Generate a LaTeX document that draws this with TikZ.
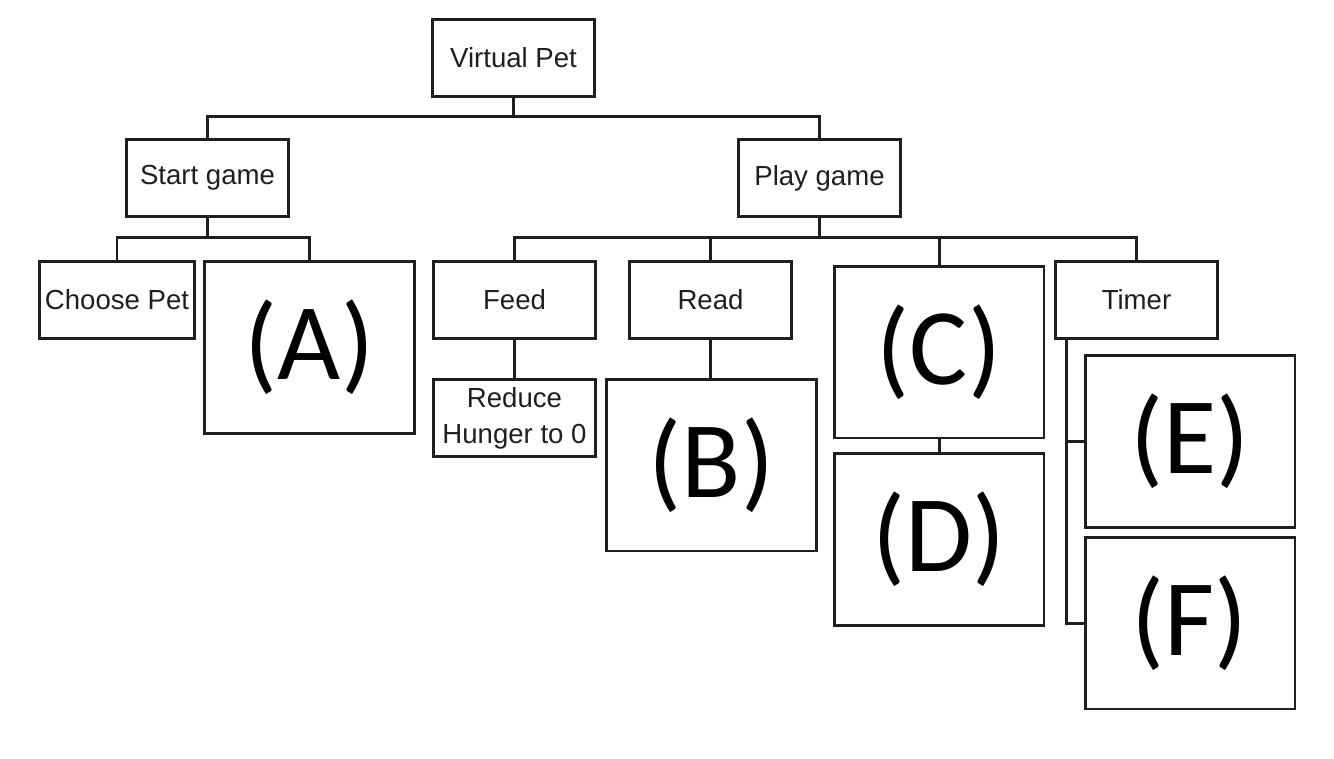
\documentclass[tikz,border=0pt]{standalone}
\usepackage{fontspec}
\setmainfont{Liberation Sans}
\newfontfamily\letterfont{Carlito}
\usepackage{tikz}

\begin{document}
\begin{tikzpicture}[x=0.02cm, y=-0.02cm,
    box/.style={draw=black!88, line width=1.7pt, inner sep=0pt, align=center,
      minimum width=3.24cm, minimum height=1.54cm, text=black!88,
      font=\fontsize{15.7}{20.4}\selectfont},
    bigbox/.style={draw=black!88, line width=1.7pt, inner sep=0pt,
      minimum width=4.2cm, minimum height=3.44cm, text=black,
      font=\letterfont\fontsize{62}{70}\selectfont},
    link/.style={draw=black!88, line width=1.7pt}]

  \useasboundingbox (0,0) rectangle (1334,758);

  \node[box] (vp) at (513.5,58) {Virtual Pet};
  \node[box] (sg) at (207.5,178) {Start game};
  \node[box] (pg) at (819.5,178) {Play game};

  \node[box, minimum width=3.1cm] (cp) at (117,300) {Choose Pet};
  \node[bigbox] (a) at (309.5,347.5) {(A)};

  \node[box] (fd) at (514.5,300) {Feed};
  \node[box] (rd) at (710.5,300) {Read};
  \node[bigbox] (c) at (939,352) {(C)};
  \node[box] (tm) at (1136.5,300) {Timer};

  \node[box] (rh) at (514.5,418) {Reduce\\Hunger to 0};
  \node[bigbox] (b) at (711.5,465) {(B)};
  \node[bigbox] (d) at (939,539.5) {(D)};
  \node[bigbox] (e) at (1190,441.5) {(E)};
  \node[bigbox] (f) at (1190,623) {(F)};

  \draw[link] (vp.south) -- ++(0,19) -| (sg.north);
  \draw[link] (vp.south) -- ++(0,19) -| (pg.north);

  \foreach \kid in {cp,a}
    \draw[link] (sg.south) -- ++(0,20) -| (\kid.north);
  \foreach \kid in {fd,rd,c,tm}
    \draw[link] (pg.south) -- ++(0,20) -| (\kid.north);

  \draw[link] (fd) -- (rh);
  \draw[link] (rd.south) -- (b.north -| rd.south);
  \draw[link] (c) -- (d);

  \draw[link] ([xshift=0.24cm]tm.south west) |- (e.west);
  \draw[link] ([xshift=0.24cm]tm.south west) |- (f.west);
\end{tikzpicture}
\end{document}
